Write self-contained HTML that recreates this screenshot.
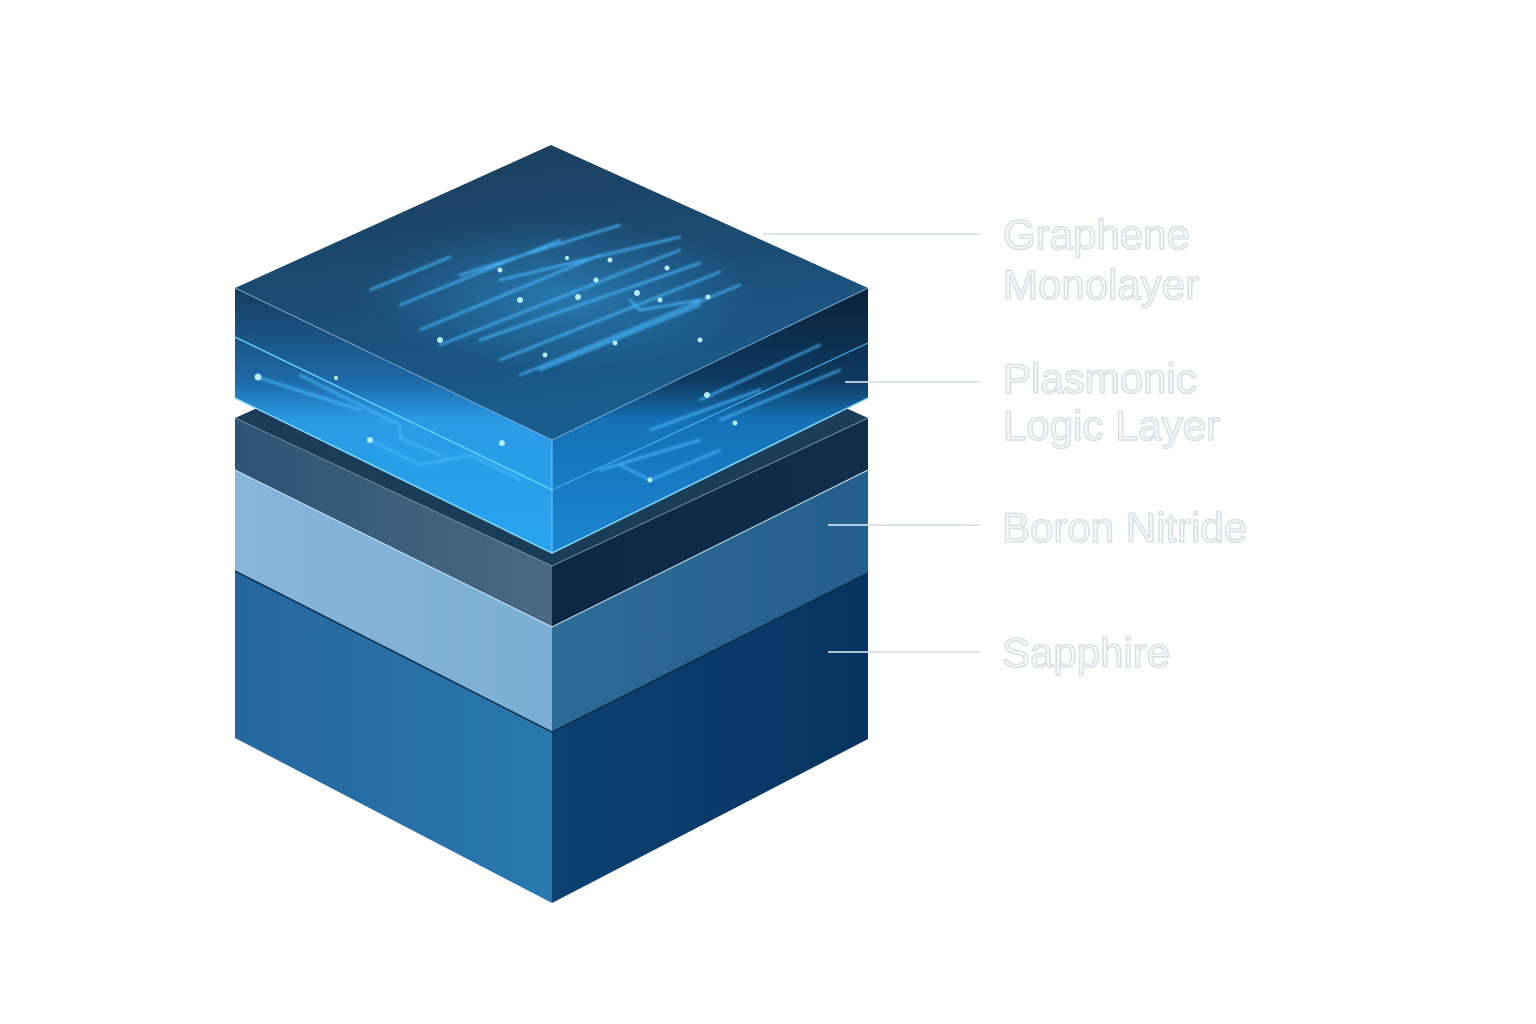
<!DOCTYPE html>
<html><head><meta charset="utf-8"><style>
html,body{margin:0;padding:0;background:#fff;}
svg{display:block}
.lbl{font-family:"Liberation Sans",sans-serif;font-size:42px;font-weight:normal;fill:#f7f9fb;stroke:#d9e1e7;stroke-width:1.6px}
</style></head><body>
<svg width="1536" height="1024" viewBox="0 0 1536 1024" xmlns="http://www.w3.org/2000/svg">
<defs>
<linearGradient id="sapL" x1="0" y1="0" x2="1" y2="0"><stop offset="0" stop-color="#2467a0"/><stop offset="1" stop-color="#2a78b0"/></linearGradient>
<linearGradient id="sapR" x1="0" y1="0" x2="1" y2="0"><stop offset="0" stop-color="#0b4272"/><stop offset="1" stop-color="#073460"/></linearGradient>
<linearGradient id="bnL" x1="0" y1="0" x2="1" y2="0"><stop offset="0" stop-color="#86b6da"/><stop offset="1" stop-color="#7aaed3"/></linearGradient>
<linearGradient id="bnR" x1="0" y1="0" x2="1" y2="0"><stop offset="0" stop-color="#2d6c96"/><stop offset="1" stop-color="#23608c"/></linearGradient>
<linearGradient id="dkL" x1="0" y1="0" x2="1" y2="0"><stop offset="0" stop-color="#2c5474"/><stop offset="1" stop-color="#4a6a84"/></linearGradient>
<linearGradient id="dkR" x1="0" y1="0" x2="1" y2="0"><stop offset="0" stop-color="#0b2a42"/><stop offset="1" stop-color="#102f48"/></linearGradient>
<linearGradient id="top" x1="0" y1="0" x2="0.3" y2="1"><stop offset="0" stop-color="#1c3c58"/><stop offset="0.6" stop-color="#1b4f78"/><stop offset="1" stop-color="#1a5e90"/></linearGradient>
<linearGradient id="upL" x1="0" y1="0" x2="0" y2="1"><stop offset="0" stop-color="#153c5e"/><stop offset="0.35" stop-color="#1e6aa8"/><stop offset="0.5" stop-color="#2a9be6"/><stop offset="1" stop-color="#27a4ee"/></linearGradient>
<linearGradient id="upR" x1="0" y1="0" x2="0" y2="1"><stop offset="0" stop-color="#0a2238"/><stop offset="0.35" stop-color="#0e3a60"/><stop offset="0.5" stop-color="#1572b8"/><stop offset="1" stop-color="#1a86d0"/></linearGradient>
<radialGradient id="glow" cx="0.5" cy="0.5" r="0.5"><stop offset="0" stop-color="#3cb4ff" stop-opacity="0.4"/><stop offset="1" stop-color="#3cb4ff" stop-opacity="0"/></radialGradient>
<filter id="bl" x="-20%" y="-20%" width="140%" height="140%"><feGaussianBlur stdDeviation="1.2"/></filter>
</defs>

<!-- Sapphire -->
<polygon points="235,571 552,732 552,903 235,738" fill="url(#sapL)"/>
<polygon points="552,732 868,573 868,739 552,903" fill="url(#sapR)"/>
<!-- Boron nitride -->
<polygon points="235,470 552,627 552,732 235,571" fill="url(#bnL)"/>
<polygon points="552,627 868,470 868,573 552,732" fill="url(#bnR)"/>
<!-- dark layer -->
<polygon points="551,275 868,418 552,566 235,418" fill="#1c3d58"/>
<polygon points="235,418 552,566 552,627 235,470" fill="url(#dkL)"/>
<polygon points="552,566 868,418 868,470 552,627" fill="url(#dkR)"/>
<polyline points="235,571 552,732 868,573" fill="none" stroke="#0d2c48" stroke-width="1.5"/>
<polyline points="235,470 552,627 868,470" fill="none" stroke="#cfe3f2" stroke-width="1"/>
<polyline points="235,418 552,566 868,418" fill="none" stroke="#6f8ea6" stroke-width="1"/>

<!-- upper block -->
<polygon points="235,288 552,440 552,553 235,398" fill="url(#upL)"/>
<polygon points="552,440 868,288 868,398 552,553" fill="url(#upR)"/>
<polygon points="551,145 868,288 552,440 235,288" fill="url(#top)"/>
<ellipse cx="560" cy="295" rx="200" ry="75" fill="url(#glow)"/>
<polyline points="235,337 552,490" fill="none" stroke="#5fd0ff" stroke-width="1.5"/>
<polyline points="552,490 868,343" fill="none" stroke="#40b0f0" stroke-width="1.2"/>
<polyline points="235,398 552,553 868,398" fill="none" stroke="#7fd8ff" stroke-width="1.5"/>
<line x1="552" y1="440" x2="552" y2="553" stroke="#70c8ff" stroke-width="1"/>
<polyline points="235,288 552,440 868,288" fill="none" stroke="#9fc8e6" stroke-width="1" opacity="0.7"/>

<!-- glow traces -->
<g stroke="#46b8ff" stroke-width="2" fill="none" filter="url(#bl)" stroke-linecap="round">
<line x1="370" y1="290" x2="450" y2="257"/>
<line x1="400" y1="305" x2="560" y2="240"/>
<line x1="420" y1="330" x2="600" y2="255"/>
<line x1="440" y1="345" x2="680" y2="250"/>
<line x1="480" y1="340" x2="700" y2="263"/>
<line x1="500" y1="360" x2="720" y2="272"/>
<line x1="520" y1="375" x2="740" y2="285"/>
<line x1="540" y1="370" x2="700" y2="305"/>
<line x1="460" y1="275" x2="620" y2="225"/>
<line x1="500" y1="280" x2="680" y2="237"/>
<polyline points="630,300 640,310 700,300"/>
<line x1="260" y1="378" x2="360" y2="410"/>
<polyline points="300,375 400,425 400,438 440,455"/>
<polyline points="370,440 420,465 470,455 520,480"/>
<line x1="600" y1="470" x2="700" y2="440"/>
<polyline points="620,465 650,480 720,450"/>
<line x1="700" y1="400" x2="820" y2="345"/>
<line x1="720" y1="420" x2="840" y2="370"/>
<line x1="650" y1="430" x2="760" y2="390"/>
</g>
<g fill="#b8ecff">
<circle cx="440" cy="340" r="3"/><circle cx="520" cy="300" r="3"/><circle cx="578" cy="297" r="3"/>
<circle cx="637" cy="293" r="3"/><circle cx="596" cy="280" r="2.5"/><circle cx="610" cy="260" r="2.5"/>
<circle cx="500" cy="270" r="2.5"/><circle cx="567" cy="258" r="2"/><circle cx="660" cy="300" r="2.5"/>
<circle cx="615" cy="343" r="2.5"/><circle cx="545" cy="355" r="2.5"/><circle cx="667" cy="268" r="2.5"/>
<circle cx="708" cy="297" r="2.5"/><circle cx="700" cy="340" r="2.5"/><circle cx="258" cy="377" r="3.5"/>
<circle cx="370" cy="440" r="3"/><circle cx="502" cy="443" r="3"/><circle cx="650" cy="480" r="2.5"/>
<circle cx="707" cy="395" r="3"/><circle cx="735" cy="423" r="2.5"/><circle cx="336" cy="378" r="2"/>
</g>

<!-- leader lines -->
<g stroke-width="1.5">
<line x1="763" y1="234" x2="980" y2="234" stroke="#d3dbe1"/>
<line x1="845" y1="382" x2="868" y2="382" stroke="#e8f0f6"/>
<line x1="868" y1="382" x2="980" y2="382" stroke="#d3dbe1"/>
<line x1="828" y1="525" x2="868" y2="525" stroke="#e8f0f6"/>
<line x1="868" y1="525" x2="980" y2="525" stroke="#d3dbe1"/>
<line x1="828" y1="652" x2="868" y2="652" stroke="#e8f0f6"/>
<line x1="868" y1="652" x2="980" y2="652" stroke="#d3dbe1"/>
</g>

<text class="lbl" x="1003" y="249">Graphene</text>
<text class="lbl" x="1003" y="299">Monolayer</text>
<text class="lbl" x="1003" y="393">Plasmonic</text>
<text class="lbl" x="1003" y="440">Logic Layer</text>
<text class="lbl" x="1002" y="542">Boron Nitride</text>
<text class="lbl" x="1002" y="667">Sapphire</text>
</svg>
</body></html>
